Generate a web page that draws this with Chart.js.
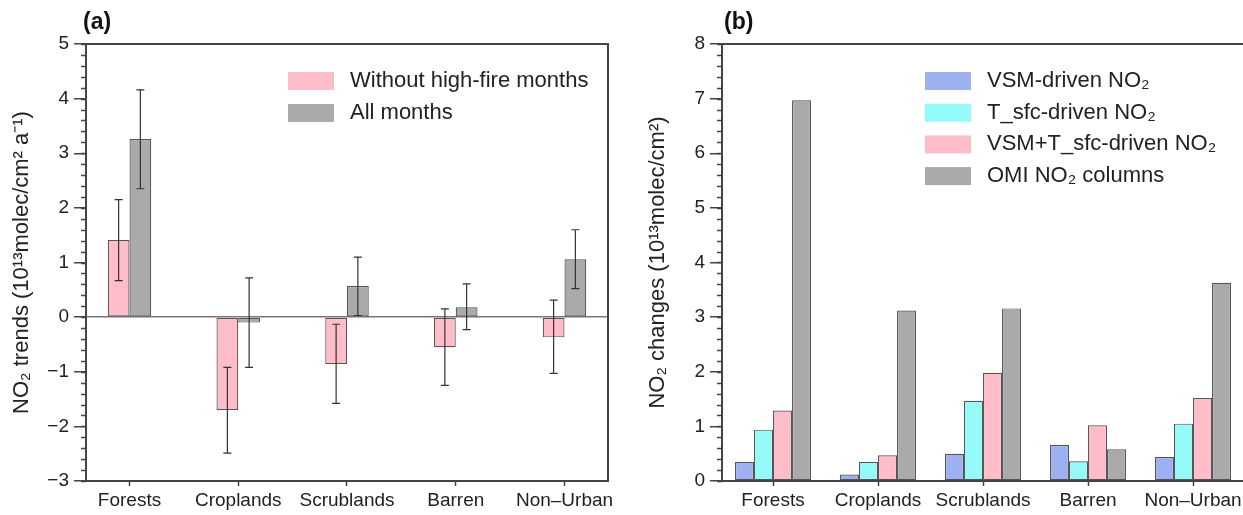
<!DOCTYPE html>
<html>
<head>
<meta charset="utf-8">
<script src="https://cdn.jsdelivr.net/npm/chart.js@4.4.1/dist/chart.umd.min.js"></script>
<style>
  html, body { margin: 0; padding: 0; background: #fff; }
  #wrap { position: relative; width: 1243px; height: 515px; overflow: hidden; }
  canvas { position: absolute; top: 0; }
  #trends { left: 0; }
  #changes { left: 620px; }
</style>
</head>
<body>
<div id="wrap">
  <canvas id="trends" width="620" height="515"></canvas>
  <canvas id="changes" width="623" height="515"></canvas>
</div>
<script>
const categories = ['Forests', 'Croplands', 'Scrublands', 'Barren', 'Non–Urban'];

// (a) NO2 trends with 1-sigma ranges
const noFireTrend = [1.41, -1.70, -0.86, -0.55, -0.37];
const noFireLow   = [0.67, -2.49, -1.58, -1.25, -1.03];
const noFireHigh  = [2.15, -0.92, -0.13, 0.15, 0.31];
const allTrend    = [3.26, -0.10, 0.57, 0.18, 1.06];
const allLow      = [2.35, -0.92, 0.03, -0.23, 0.52];
const allHigh     = [4.16, 0.72, 1.10, 0.61, 1.60];

// (b) NO2 changes
const vsmDriven  = [0.35, 0.12, 0.50, 0.66, 0.44];
const tsfcDriven = [0.94, 0.35, 1.47, 0.36, 1.05];
const bothDriven = [1.29, 0.47, 1.98, 1.02, 1.52];
const omiColumns = [6.97, 3.12, 3.16, 0.58, 3.63];

const trendTicks = [-3, -2, -1, 0, 1, 2, 3, 4, 5];
const changeTicks = [0, 1, 2, 3, 4, 5, 6, 7, 8];

const FONT = "'Liberation Sans', Arial, Helvetica, sans-serif";
const INK = '#444';
const PINK = '#ffbdc9', GREY = '#aaaaaa', BLUE = '#9cb0f2', CYAN = '#95fbf8';

const toPoints = vals => vals.map((y, i) => ({ x: i + 1, y }));
const fmt = v => String(v).replace('-', '\u2212');

// minor ticks, frame, panel letter, error bars and the inset legend
const decor = {
  id: 'decor',
  afterDatasetsDraw(chart, args, opts) {
    const ctx = chart.ctx;
    const ys = chart.scales.y;
    const area = chart.chartArea;
    ctx.save();
    // error bars
    chart.data.datasets.forEach((ds, di) => {
      if (!ds.errLow) return;
      chart.getDatasetMeta(di).data.forEach((bar, i) => {
        const y1 = ys.getPixelForValue(ds.errLow[i]);
        const y2 = ys.getPixelForValue(ds.errHigh[i]);
        ctx.strokeStyle = '#333';
        ctx.lineWidth = 1.2;
        ctx.beginPath();
        ctx.moveTo(bar.x, y1); ctx.lineTo(bar.x, y2);
        ctx.moveTo(bar.x - 4, y1); ctx.lineTo(bar.x + 4, y1);
        ctx.moveTo(bar.x - 4, y2); ctx.lineTo(bar.x + 4, y2);
        ctx.stroke();
      });
    });
    // minor ticks
    ctx.strokeStyle = INK;
    ctx.lineWidth = 1.5;
    ctx.beginPath();
    for (let v = ys.min; v <= ys.max + 1e-6; v += 0.2) {
      const p = Math.round(ys.getPixelForValue(v)) + 0.5;
      ctx.moveTo(area.left - 5, p); ctx.lineTo(area.left, p);
    }
    ctx.stroke();
    // frame
    ctx.lineWidth = 2;
    ctx.beginPath();
    if (opts.box) {
      ctx.rect(area.left, area.top, area.right - area.left, area.bottom - area.top);
    } else {
      ctx.moveTo(area.left, area.top); ctx.lineTo(chart.width, area.top);
    }
    ctx.stroke();
    // panel letter
    ctx.fillStyle = '#111';
    ctx.font = 'bold 23px ' + FONT;
    ctx.textBaseline = 'middle';
    ctx.textAlign = 'left';
    ctx.fillText(opts.letter, area.left + opts.letterDx, 23);
    // legend
    ctx.font = '22px ' + FONT;
    chart.data.datasets.forEach((ds, i) => {
      const y = opts.legendY + i * opts.legendGap;
      ctx.fillStyle = ds.backgroundColor;
      ctx.fillRect(opts.legendX, y - 9, 46, 18);
      ctx.fillStyle = '#222';
      ctx.fillText(ds.label, opts.legendX + 62, y);
    });
    ctx.restore();
  }
};

function xAxis(min, max) {
  return {
    type: 'linear', min, max, offset: false,
    afterBuildTicks: s => { s.ticks = categories.map((_, i) => ({ value: i + 1 })); },
    ticks: {
      autoSkip: false, maxRotation: 0, padding: 3, color: '#222',
      font: { family: FONT, size: 19 },
      callback: v => categories[v - 1] ?? ''
    },
    grid: { offset: false, drawOnChartArea: false, tickLength: 5, tickColor: INK, tickWidth: 1.5 },
    border: { color: INK, width: 2 },
    afterFit: s => { s.height = 34; s.paddingLeft = 0; s.paddingRight = 0; }
  };
}

function yAxis(min, max, ticks, title, titlePad, width, zeroLine) {
  return {
    min, max,
    afterBuildTicks: s => { s.ticks = ticks.map(value => ({ value })); },
    ticks: { padding: 5, color: '#222', font: { family: FONT, size: 19 }, callback: fmt },
    grid: {
      drawOnChartArea: zeroLine,
      color: c => (c.tick && c.tick.value === 0) ? '#777' : 'rgba(0,0,0,0)',
      lineWidth: 1.5,
      tickLength: 12, tickColor: INK, tickWidth: 1.5
    },
    border: { color: INK, width: 2 },
    title: {
      display: true, text: title, color: '#222',
      font: { family: FONT, size: 22 },
      padding: { top: titlePad, bottom: 0 }
    },
    afterFit: s => { s.width = width; s.paddingTop = 0; s.paddingBottom = 0; }
  };
}

const barStyle = { borderColor: '#555', borderWidth: 1.2, borderSkipped: false };

new Chart(document.getElementById('trends'), {
  type: 'bar',
  data: {
    datasets: [
      { label: 'Without high-fire months', data: toPoints(noFireTrend), backgroundColor: PINK,
        errLow: noFireLow, errHigh: noFireHigh, ...barStyle },
      { label: 'All months', data: toPoints(allTrend), backgroundColor: GREY,
        errLow: allLow, errHigh: allHigh, ...barStyle }
    ]
  },
  options: {
    responsive: false, animation: false, devicePixelRatio: 1,
    layout: { padding: { top: 44, left: 0, right: 12, bottom: 0 } },
    categoryPercentage: 0.4, barPercentage: 1.0,
    scales: {
      x: xAxis(0.6, 5.4),
      y: yAxis(-3, 5, trendTicks, 'NO\u2082 trends (10\u00b9\u00b3molec/cm\u00b2 a\u207b\u00b9)', 9, 86, true)
    },
    plugins: {
      legend: { display: false }, tooltip: { enabled: false },
      decor: { letter: '(a)', letterDx: -3, box: true, legendX: 288, legendY: 81, legendGap: 32 }
    }
  },
  plugins: [decor]
});

new Chart(document.getElementById('changes'), {
  type: 'bar',
  data: {
    datasets: [
      { label: 'VSM-driven NO\u2082', data: toPoints(vsmDriven), backgroundColor: BLUE, ...barStyle },
      { label: 'T_sfc-driven NO\u2082', data: toPoints(tsfcDriven), backgroundColor: CYAN, ...barStyle },
      { label: 'VSM+T_sfc-driven NO\u2082', data: toPoints(bothDriven), backgroundColor: PINK, ...barStyle },
      { label: 'OMI NO\u2082 columns', data: toPoints(omiColumns), backgroundColor: GREY, ...barStyle }
    ]
  },
  options: {
    responsive: false, animation: false, devicePixelRatio: 1,
    layout: { padding: { top: 44, left: 0, right: 0, bottom: 0 } },
    categoryPercentage: 0.724, barPercentage: 1.0,
    scales: {
      x: xAxis(0.514, 5.476),
      y: yAxis(0, 8, changeTicks, 'NO\u2082 changes (10\u00b9\u00b3molec/cm\u00b2)', 25, 102, false)
    },
    plugins: {
      legend: { display: false }, tooltip: { enabled: false },
      decor: { letter: '(b)', letterDx: 2, box: false, legendX: 305, legendY: 81, legendGap: 31.7 }
    }
  },
  plugins: [decor]
});
</script>
</body>
</html>
